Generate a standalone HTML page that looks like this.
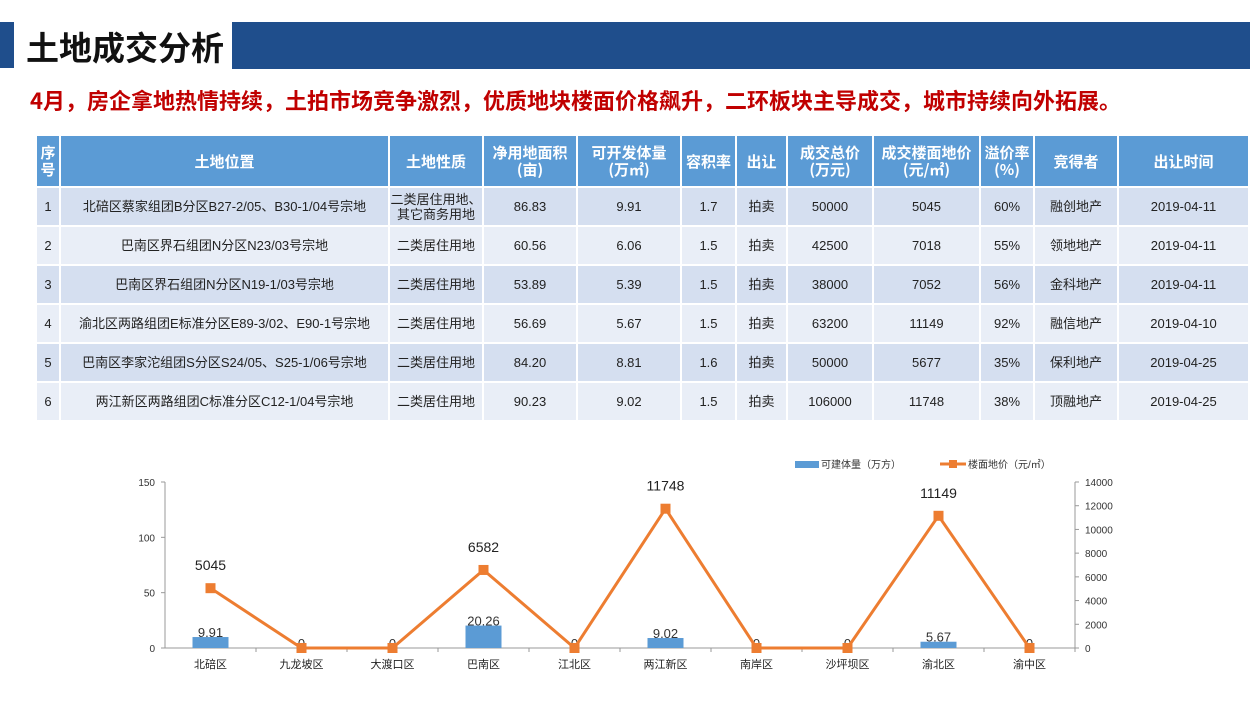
<!DOCTYPE html>
<html><head><meta charset="utf-8">
<style>
body{margin:0;width:1250px;height:703px;background:#fff;position:relative;overflow:hidden;font-family:"Liberation Sans","Noto Sans CJK SC",sans-serif;}
.abs{position:absolute}
table{position:absolute;left:35px;top:134px;border-collapse:separate;border-spacing:2px 2px;width:1215px;}
td,th{text-align:center;padding:0;font-size:13px;color:#222;}
th{background:#5b9bd5;color:#fff;font-weight:bold;font-size:15px;height:50px;line-height:17px;font-family:"Noto Sans CJK SC",sans-serif;}
td{height:37px;line-height:15px;}
tr.o td{background:#d5dff0}
tr.e td{background:#e9eef7}
</style></head><body>
<div class="abs" style="left:0;top:22px;width:14px;height:46px;background:#1f4e8c"></div>
<div class="abs" style="left:26px;top:24px;font-size:33px;font-weight:bold;color:#111;font-family:'Noto Sans CJK SC',sans-serif;line-height:44px">土地成交分析</div>
<div class="abs" style="left:232px;top:22px;width:1018px;height:47px;background:#1f4e8c"></div>
<div class="abs" style="left:30px;top:84px;font-size:22px;font-weight:bold;color:#c00000;font-family:'Noto Sans CJK SC',sans-serif;line-height:32px">4月，房企拿地热情持续，土拍市场竞争激烈，优质地块楼面价格飙升，二环板块主导成交，城市持续向外拓展。</div>
<table>
<tr><th style="width:22px">序<br>号</th><th style="width:327px">土地位置</th><th style="width:92px">土地性质</th><th style="width:92px">净用地面积<br>(亩)</th><th style="width:102px">可开发体量<br>(万㎡)</th><th style="width:53px">容积率</th><th style="width:49px">出让</th><th style="width:84px">成交总价<br>(万元)</th><th style="width:105px">成交楼面地价<br>(元/㎡)</th><th style="width:52px">溢价率<br>(%)</th><th style="width:82px">竞得者</th><th>出让时间</th></tr>
<tr class="o"><td>1</td><td>北碚区蔡家组团B分区B27-2/05、B30-1/04号宗地</td><td>二类居住用地、<br>其它商务用地</td><td>86.83</td><td>9.91</td><td>1.7</td><td>拍卖</td><td>50000</td><td>5045</td><td>60%</td><td>融创地产</td><td>2019-04-11</td></tr>
<tr class="e"><td>2</td><td>巴南区界石组团N分区N23/03号宗地</td><td>二类居住用地</td><td>60.56</td><td>6.06</td><td>1.5</td><td>拍卖</td><td>42500</td><td>7018</td><td>55%</td><td>领地地产</td><td>2019-04-11</td></tr>
<tr class="o"><td>3</td><td>巴南区界石组团N分区N19-1/03号宗地</td><td>二类居住用地</td><td>53.89</td><td>5.39</td><td>1.5</td><td>拍卖</td><td>38000</td><td>7052</td><td>56%</td><td>金科地产</td><td>2019-04-11</td></tr>
<tr class="e"><td>4</td><td>渝北区两路组团E标准分区E89-3/02、E90-1号宗地</td><td>二类居住用地</td><td>56.69</td><td>5.67</td><td>1.5</td><td>拍卖</td><td>63200</td><td>11149</td><td>92%</td><td>融信地产</td><td>2019-04-10</td></tr>
<tr class="o"><td>5</td><td>巴南区李家沱组团S分区S24/05、S25-1/06号宗地</td><td>二类居住用地</td><td>84.20</td><td>8.81</td><td>1.6</td><td>拍卖</td><td>50000</td><td>5677</td><td>35%</td><td>保利地产</td><td>2019-04-25</td></tr>
<tr class="e"><td>6</td><td>两江新区两路组团C标准分区C12-1/04号宗地</td><td>二类居住用地</td><td>90.23</td><td>9.02</td><td>1.5</td><td>拍卖</td><td>106000</td><td>11748</td><td>38%</td><td>顶融地产</td><td>2019-04-25</td></tr>
</table>
<svg class="abs" style="left:0;top:0" width="1250" height="703" id="chart"></svg>
<script>
const categories=["北碚区","九龙坡区","大渡口区","巴南区","江北区","两江新区","南岸区","沙坪坝区","渝北区","渝中区"];
const volumes=[9.91,0,0,20.26,0,9.02,0,0,5.67,0];
const prices=[5045,0,0,6582,0,11748,0,0,11149,0];
const leftTicks=[0,50,100,150];
const rightTicks=[0,2000,4000,6000,8000,10000,12000,14000];
const svg=document.getElementById('chart');const NS='http://www.w3.org/2000/svg';
const X0=165,X1=1075,Y0=648,Ytop=482;
const yL=v=>Y0-(v/150)*(Y0-Ytop);
const yR=v=>Y0-(v/14000)*(Y0-Ytop);
const step=(X1-X0)/categories.length;
const xC=i=>X0+step*(i+0.5);
function mk(t,a,txt){const e=document.createElementNS(NS,t);for(const k in a)e.setAttribute(k,a[k]);if(txt!=null)e.textContent=txt;svg.appendChild(e);return e;}
let e;
e=mk('line',{x1:X0,y1:Ytop,x2:X0,y2:Y0,stroke:'#999'});
e=mk('line',{x1:X1,y1:Ytop,x2:X1,y2:Y0,stroke:'#999'});
e=mk('line',{x1:X0,y1:Y0,x2:X1,y2:Y0,stroke:'#999'});
leftTicks.forEach(v=>{mk('line',{x1:X0-4,y1:yL(v),x2:X0,y2:yL(v),stroke:'#999'});
e=mk('text',{x:X0-10,y:yL(v)+4,'text-anchor':'end','font-size':10,fill:'#333'},v);});
rightTicks.forEach(v=>{mk('line',{x1:X1,y1:yR(v),x2:X1+4,y2:yR(v),stroke:'#999'});
e=mk('text',{x:X1+10,y:yR(v)+4,'font-size':10,fill:'#333'},v);});
categories.forEach((c,i)=>{mk('line',{x1:X0+step*(i+1),y1:Y0,x2:X0+step*(i+1),y2:Y0+4,stroke:'#999'});
e=mk('text',{x:xC(i),y:Y0+20,'text-anchor':'middle','font-size':11,fill:'#222'},c);});
volumes.forEach((v,i)=>{const y=yL(v);
e=mk('rect',{x:xC(i)-18,y:y,width:36,height:Y0-y,fill:'#5b9bd5'});
e=mk('text',{x:xC(i),y:Math.min(y,Y0)-0,'text-anchor':'middle','font-size':13,fill:'#333'},v===0?'0':v.toFixed(2));});
e=mk('polyline',{points:prices.map((p,i)=>xC(i)+','+yR(p)).join(' '),fill:'none',stroke:'#ed7d31','stroke-width':3});
prices.forEach((p,i)=>{e=mk('rect',{x:xC(i)-5,y:yR(p)-5,width:10,height:10,fill:'#ed7d31'});
if(p>0){e=mk('text',{x:xC(i),y:yR(p)-18,'text-anchor':'middle','font-size':14,fill:'#222'},p);}});
e=mk('rect',{x:795,y:461,width:24,height:7,fill:'#5b9bd5'});
e=mk('text',{x:821,y:468,'font-size':10,fill:'#333'},'可建体量（万方）');
e=mk('line',{x1:940,y1:464,x2:966,y2:464,stroke:'#ed7d31','stroke-width':3});
mk('rect',{x:949,y:460,width:8,height:8,fill:'#ed7d31'});
e=mk('text',{x:968,y:468,'font-size':10,fill:'#333'},'楼面地价（元/㎡）');
</script>
</body></html>
